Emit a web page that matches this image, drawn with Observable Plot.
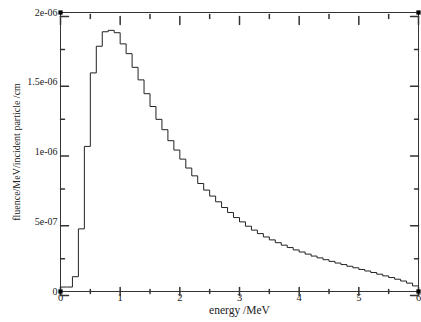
<!DOCTYPE html>
<html>
<head>
<meta charset="utf-8">
<script src="https://cdn.jsdelivr.net/npm/d3@7"></script>
<script src="https://cdn.jsdelivr.net/npm/@observablehq/plot@0.6"></script>
<style>
  html, body { margin: 0; padding: 0; background: #fff; }
  #chart svg { display: block; }
</style>
</head>
<body>
<div id="chart"></div>
<script>
// Bin left edges (MeV), bin width 0.1
const binStart = [0.0,0.1,0.2,0.3,0.4,0.5,0.6,0.7,0.8,0.9,
  1.0,1.1,1.2,1.3,1.4,1.5,1.6,1.7,1.8,1.9,
  2.0,2.1,2.2,2.3,2.4,2.5,2.6,2.7,2.8,2.9,
  3.0,3.1,3.2,3.3,3.4,3.5,3.6,3.7,3.8,3.9,
  4.0,4.1,4.2,4.3,4.4,4.5,4.6,4.7,4.8,4.9,
  5.0,5.1,5.2,5.3,5.4,5.5,5.6,5.7,5.8,5.9];
const binEnd = 6.0;
// fluence in units of 1e-6 /MeV/incident particle /cm
const fluenceE6 = [0.032,0.032,0.106,0.449,1.040,1.567,1.758,1.862,1.872,1.855,
  1.775,1.705,1.607,1.517,1.418,1.326,1.234,1.160,1.081,1.014,
  0.949,0.885,0.829,0.774,0.727,0.684,0.643,0.602,0.566,0.530,
  0.499,0.468,0.440,0.415,0.391,0.370,0.350,0.332,0.315,0.298,
  0.283,0.268,0.254,0.241,0.228,0.216,0.204,0.193,0.181,0.170,
  0.158,0.147,0.136,0.124,0.112,0.100,0.088,0.075,0.060,0.040];

const xMajor = [0,1,2,3,4,5,6];
const xMinor = [0.5,1.5,2.5,3.5,4.5,5.5];
const yMajor = [0,5e-7,1e-6,1.5e-6,2e-6];
const yMinor = [2.5e-7,7.5e-7,1.25e-6,1.75e-6];
const yLabels = ["0","5e-07","1e-06","1.5e-06","2e-06"];
const xTitle = "energy /MeV";
const yTitle = "fluence/MeV/incident particle /cm";
const cornerX = [0,6,0,6];
const cornerY = [0,0,2e-6,2e-6];

const pts = binStart.map((e,i) => ({e, f: fluenceE6[i]*1e-6}));
pts.push({e: binEnd, f: fluenceE6[fluenceE6.length-1]*1e-6});
const corners = cornerX.map((x,i) => ({x, y: cornerY[i]}));

const ink = "#333";
const tickUp = {draw(c,l){c.moveTo(0,0); c.lineTo(0,-l);}};
const tickDown = {draw(c,l){c.moveTo(0,0); c.lineTo(0,l);}};
const tickRight = {draw(c,l){c.moveTo(0,0); c.lineTo(l,0);}};
const tickLeft = {draw(c,l){c.moveTo(0,0); c.lineTo(-l,0);}};

const chart = Plot.plot({
  width: 421,
  height: 322,
  marginLeft: 60,
  marginRight: 3,
  marginTop: 12,
  marginBottom: 31,
  style: {fontFamily: "'Liberation Serif', 'DejaVu Serif', serif", fontSize: "10px", color: "#222", background: "#fff"},
  x: {domain: [0, 6]},
  y: {domain: [0, 2e-6]},
  marks: [
    Plot.frame({stroke: ink}),
    Plot.axisX({ticks: xMajor, tickSize: 0, tickPadding: 2, tickFormat: d => String(d), label: null, fontSize: 10.5}),
    Plot.text([xTitle], {text: d => d, frameAnchor: "bottom", dy: 22, fontSize: 11.5, fill: "#222"}),
    Plot.axisY({ticks: yMajor, tickSize: 0, tickPadding: 3, tickFormat: d => yLabels[yMajor.indexOf(d)],
      label: yTitle, labelAnchor: "center", labelOffset: 48, labelArrow: "none", fontSize: 10}),
    Plot.vector(xMajor, {x: d => d, frameAnchor: "bottom", length: 8, shape: tickUp, stroke: ink}),
    Plot.vector(xMinor, {x: d => d, frameAnchor: "bottom", length: 4, shape: tickUp, stroke: ink}),
    Plot.vector(xMajor, {x: d => d, frameAnchor: "top", length: 8, shape: tickDown, stroke: ink}),
    Plot.vector(xMinor, {x: d => d, frameAnchor: "top", length: 4, shape: tickDown, stroke: ink}),
    Plot.vector(yMajor, {y: d => d, frameAnchor: "left", length: 8, shape: tickRight, stroke: ink}),
    Plot.vector(yMinor, {y: d => d, frameAnchor: "left", length: 4, shape: tickRight, stroke: ink}),
    Plot.vector(yMajor, {y: d => d, frameAnchor: "right", length: 8, shape: tickLeft, stroke: ink}),
    Plot.vector(yMinor, {y: d => d, frameAnchor: "right", length: 4, shape: tickLeft, stroke: ink}),
    Plot.line(pts, {x: "e", y: "f", curve: "step-after", stroke: "#222", strokeWidth: 1}),
    Plot.dot(corners, {x: "x", y: "y", symbol: "square", r: 2.4, fill: "#000"})
  ]
});
document.getElementById("chart").appendChild(chart);
</script>
</body>
</html>
